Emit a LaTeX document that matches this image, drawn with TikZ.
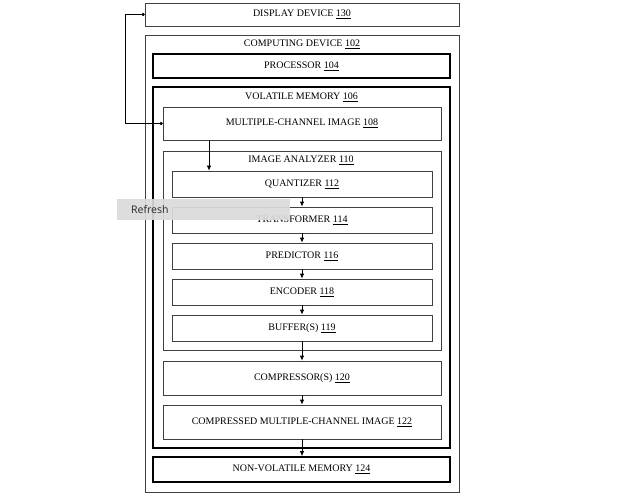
\documentclass[tikz,border=0pt]{standalone}
\usepackage{fontspec}
\setmainfont{Liberation Serif}
\newfontfamily\uifont{Open Sans}
\usetikzlibrary{arrows.meta}
\begin{document}
\begin{tikzpicture}[x=1pt,y=-1pt,
  thinbox/.style={draw=black!75,line width=0.8pt,fill=white,inner sep=0pt,font=\fontsize{10}{12}\selectfont},
  thickbox/.style={draw=black,line width=1.7pt,fill=white,inner sep=0pt,font=\fontsize{10}{12}\selectfont},
  lbl/.style={inner sep=0pt,font=\fontsize{10}{12}\selectfont},
  arr/.style={-{Latex[length=5pt,width=4.5pt]},line width=0.8pt,black},
  dotline/.style={{Circle[length=3pt]}-{Circle[length=3pt]},line width=0.8pt,black}]
\useasboundingbox[fill=white] (0,0) rectangle (640,500);
% outer containers
\node[thinbox,minimum width=314pt,minimum height=23pt] (disp) at (302,14.5) {DISPLAY DEVICE \underline{130}};
\node[thinbox,minimum width=314pt,minimum height=457pt] (comp) at (302,263.5) {};
\node[lbl] (compl) at (302,44) {COMPUTING DEVICE \underline{102}};
\node[thickbox,minimum width=297pt,minimum height=24pt] (proc) at (301.5,66) {PROCESSOR \underline{104}};
\node[thickbox,minimum width=297pt,minimum height=361pt] (vol) at (301.5,267.5) {};
\node[lbl] (voll) at (301.5,97) {VOLATILE MEMORY \underline{106}};
\node[thinbox,minimum width=278pt,minimum height=33pt] (mci) at (302,123.5) {MULTIPLE-CHANNEL IMAGE \underline{108}};
\node[thinbox,minimum width=278pt,minimum height=199pt] (ana) at (302,250.5) {};
\node[lbl] (anal) at (301,160) {IMAGE ANALYZER \underline{110}};
\node[thinbox,minimum width=260pt,minimum height=26pt] (quant) at (302,184) {QUANTIZER \underline{112}};
\node[thinbox,minimum width=260pt,minimum height=26pt] (trans) at (302,220) {TRANSFORMER \underline{114}};
\node[thinbox,minimum width=260pt,minimum height=26pt] (pred) at (302,256) {PREDICTOR \underline{116}};
\node[thinbox,minimum width=260pt,minimum height=26pt] (enc) at (302,292) {ENCODER \underline{118}};
\node[thinbox,minimum width=260pt,minimum height=26pt] (buf) at (302,328) {BUFFER(S) \underline{119}};
\node[thinbox,minimum width=278pt,minimum height=34pt] (cmpr) at (302,378) {COMPRESSOR(S) \underline{120}};
\node[thinbox,minimum width=278pt,minimum height=34pt] (cimg) at (302,422) {COMPRESSED MULTIPLE-CHANNEL IMAGE \underline{122}};
\node[thickbox,minimum width=297pt,minimum height=25pt] (nvm) at (301.5,469.5) {NON-VOLATILE MEMORY \underline{124}};
% connectors
\draw[dotline] (disp.west) -- ++(-19,0) |- (mci.west);
\draw[arr] ([xshift=-93pt]mci.south) -- ([xshift=-93pt]quant.north);
\draw[arr] (quant) -- (trans);
\draw[arr] (trans) -- (pred);
\draw[arr] (pred) -- (enc);
\draw[arr] (enc) -- (buf);
\draw[arr] (buf) -- (cmpr);
\draw[arr] (cmpr) -- (cimg);
\draw[arr] (cimg.south) -- ([xshift=0.5pt]nvm.north);
% overlay
\node[fill=gray!28,fill opacity=0.92,text opacity=1,minimum width=173pt,minimum height=21pt,inner sep=0pt] (ov) at (203.5,209.5) {};
\node[anchor=west,inner sep=0pt,font=\uifont\fontsize{10.5}{12}\selectfont,text=black!85] (ovt) at (131,209.5) {Refresh};
\end{tikzpicture}
\end{document}
